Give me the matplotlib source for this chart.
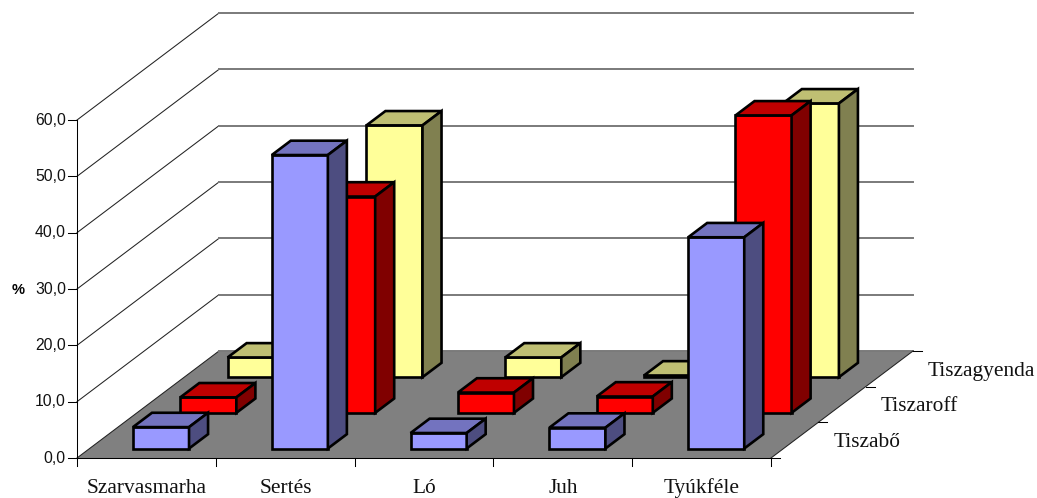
import matplotlib
matplotlib.use('Agg')
import matplotlib.pyplot as plt
from matplotlib.patches import Polygon

# Adatok (%)
categories = ['Szarvasmarha', 'Sertés', 'Ló', 'Juh', 'Tyúkféle']
series_names = ['Tiszabő', 'Tiszaroff', 'Tiszagyenda']
tiszabo = [3.8, 52.1, 2.75, 3.7, 37.5]
tiszaroff = [2.75, 38.4, 3.6, 2.9, 52.8]
tiszagyenda = [3.5, 44.7, 3.5, 0.3, 48.6]
y_ticks = [0, 10, 20, 30, 40, 50, 60]

# per-series colours: front, top, side
colors = [('#9999FF', '#7373BF', '#4D4D80'),
          ('#FF0000', '#BF0000', '#800000'),
          ('#FFFF99', '#BFBF73', '#808050')]
values = [tiszabo, tiszaroff, tiszagyenda]

# x unit = one category, y unit = one percent
X_PX = 138.8
Y_PX = 5.633
X0, Y0 = 77, 458
W, H = 1037, 498

# oblique shift for one series step of depth
DEPTH_X = 47.33 / X_PX
DEPTH_Y = 35.67 / Y_PX


def proj(x, d, v):
    return (x + d * DEPTH_X, v + d * DEPTH_Y)


fig = plt.figure(figsize=(W / 100, H / 100), dpi=100)
ax = fig.add_axes([0, 0, 1, 1])
ax.set_xlim(-X0 / X_PX, (W - X0) / X_PX)
ax.set_ylim((Y0 - H) / Y_PX, Y0 / Y_PX)
ax.axis('off')

n_cat = len(categories)
n_ser = len(series_names)
thin = 0.75

# floor
ax.add_patch(Polygon([proj(0, 0, 0), proj(n_cat, 0, 0), proj(n_cat, n_ser, 0), proj(0, n_ser, 0)],
                     facecolor='#808080', edgecolor='none', zorder=1))

# gridlines on the left and back walls
for t in y_ticks:
    a = proj(0, 0, t)
    b = proj(0, n_ser, t)
    c = proj(n_cat, n_ser, t)
    ax.plot([a[0], b[0]], [a[1], b[1]], color='#222222', lw=thin, zorder=2)
    ax.plot([b[0], c[0]], [b[1], c[1]], color='#7a7a7a', lw=1.4, zorder=2)
# right edge of the floor
a = proj(n_cat, 0, 0)
c = proj(n_cat, n_ser, 0)
ax.plot([a[0], c[0]], [a[1], c[1]], color='#222222', lw=thin, zorder=2)

# value axis
ax.plot([0, 0], [0, y_ticks[-1]], color='black', lw=thin, zorder=2)
for t in y_ticks:
    ax.plot([-9 / X_PX, 0], [t, t], color='black', lw=thin, zorder=2)
    ax.text(-11 / X_PX, t, f'{t},0', ha='right', va='center',
            family='Liberation Sans', fontsize=11.3, color='#111111')
ax.text(-59 / X_PX, 29.9, '%', ha='center', va='center', family='Liberation Sans',
        fontsize=10.5, fontweight='bold')

# category axis
ax.plot([0, n_cat], [0, 0], color='black', lw=thin, zorder=2)
for i in range(n_cat + 1):
    ax.plot([i, i], [0, -8 / Y_PX], color='black', lw=thin, zorder=2)
for i, name in enumerate(categories):
    ax.text(i + 0.5 + 0.5 / X_PX, -30.5 / Y_PX, name, ha='center', va='center',
            family='Liberation Serif', fontsize=15.4, color='#111111')

# depth axis
for j in range(n_ser + 1):
    p = proj(n_cat, j, 0)
    ax.plot([p[0], p[0] + 9 / X_PX], [p[1], p[1]], color='black', lw=thin, zorder=2)
for j, name in enumerate(series_names):
    p = proj(n_cat, j + 0.5, 0)
    ax.text(p[0] + 38.5 / X_PX, p[1] - 2.5 / Y_PX, name, ha='left', va='center',
            family='Liberation Serif', fontsize=15.4, color='#111111')

# bars from the back row to the front row
bar_l, bar_r = 0.3125, 0.7165
dep_f, dep_b = 0.266, 0.668
z = 3
for j in range(n_ser - 1, -1, -1):
    front, top, side = colors[j]
    for i in range(n_cat):
        v = values[j][i]
        x0, x1 = i + bar_l, i + bar_r
        d0, d1 = j + dep_f, j + dep_b
        faces = [
            ([proj(x0, d0, 0), proj(x1, d0, 0), proj(x1, d0, v), proj(x0, d0, v)], front),
            ([proj(x0, d0, v), proj(x1, d0, v), proj(x1, d1, v), proj(x0, d1, v)], top),
            ([proj(x1, d0, 0), proj(x1, d1, 0), proj(x1, d1, v), proj(x1, d0, v)], side),
        ]
        for pts, col in faces:
            ax.add_patch(Polygon(pts, closed=True, facecolor=col, edgecolor='black',
                                 lw=1.9, joinstyle='miter', zorder=z))
        z += 1

fig.savefig('out.png', dpi=100)
